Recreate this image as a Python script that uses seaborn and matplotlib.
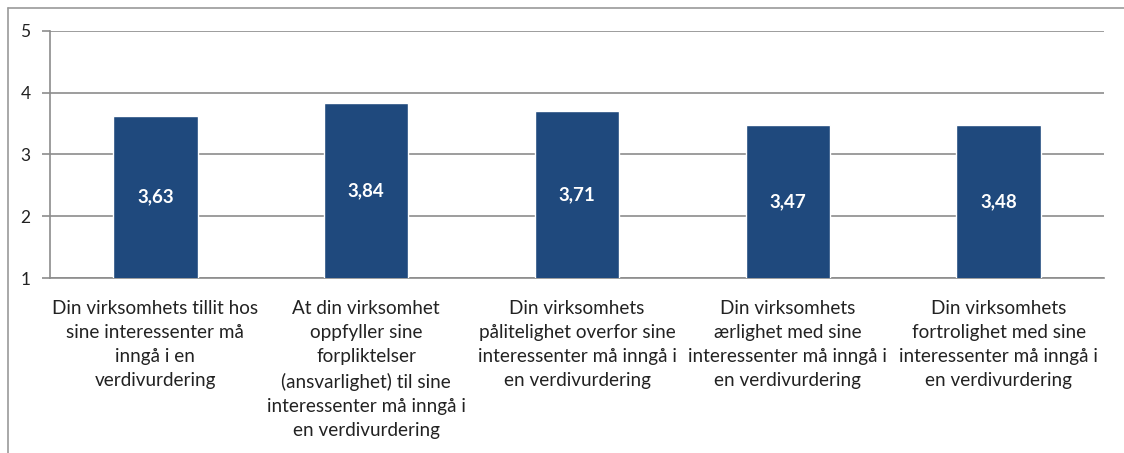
import matplotlib
matplotlib.use("Agg")
import matplotlib.pyplot as plt
import seaborn as sns
import pandas as pd
from matplotlib.lines import Line2D

# Data
categories = [
    "Din virksomhets tillit hos\nsine interessenter må\ninngå i en\nverdivurdering",
    "At din virksomhet\noppfyller sine\nforpliktelser\n(ansvarlighet) til sine\ninteressenter må inngå i\nen verdivurdering",
    "Din virksomhets\npålitelighet overfor sine\ninteressenter må inngå i\nen verdivurdering",
    "Din virksomhets\nærlighet med sine\ninteressenter må inngå i\nen verdivurdering",
    "Din virksomhets\nfortrolighet med sine\ninteressenter må inngå i\nen verdivurdering",
]
values = [3.63, 3.84, 3.71, 3.47, 3.48]
value_labels = ["3,63", "3,84", "3,71", "3,47", "3,48"]
y_ticks = [1, 2, 3, 4, 5]

sns.set_theme(style="white")
plt.rcParams['font.family'] = ['Lato', 'DejaVu Sans']

df = pd.DataFrame({"cat": categories, "val": values})

fig = plt.figure(figsize=(11.24, 4.53), dpi=100)
ax = fig.add_axes([0.0445, 0.3863, 0.9377, 0.5453])

sns.barplot(data=df, x="cat", y="val", color="#1F497D", saturation=1,
            width=0.4, ax=ax, zorder=3)

ax.set_ylim(1, 5)
ax.set_xlim(-0.5, len(categories) - 0.5)
ax.set_yticks(y_ticks)
ax.set_yticklabels([str(t) for t in y_ticks], fontsize=12.5, color="#222222")
ax.yaxis.grid(True, color="#8c8c8c", linewidth=1.2, zorder=0)
ax.set_axisbelow(True)
ax.set_xlabel("")
ax.set_ylabel("")

# category labels under the axis
ax.set_xticks(range(len(categories)))
ax.set_xticklabels(categories, fontsize=13.6, color="#222222", linespacing=1.5,
                   va="top")
ax.tick_params(axis="x", which="major", length=0, pad=16)
ax.set_xticks([i - 0.5 for i in range(len(categories) + 1)], minor=True)
ax.tick_params(axis="x", which="minor", length=6, color="#8c8c8c", width=1.2)
ax.tick_params(axis="y", length=6, color="#8c8c8c", width=1.2, left=True, pad=8)

for s in ["top", "right"]:
    ax.spines[s].set_visible(False)
for s in ["left", "bottom"]:
    ax.spines[s].set_color("#8c8c8c")
    ax.spines[s].set_linewidth(1.2)

# value labels in middle of bars
for i, (v, lab) in enumerate(zip(values, value_labels)):
    ax.text(i, (v + 1) / 2, lab, ha="center", va="center", color="white",
            fontsize=13.5, fontweight="bold", zorder=4)

# outer chart frame (left and top)
fig.add_artist(Line2D([8 / 1124, 8 / 1124], [0, 1 - 8 / 453],
                      transform=fig.transFigure, color="#9a9a9a", linewidth=1.2))
fig.add_artist(Line2D([8 / 1124, 1], [1 - 8 / 453, 1 - 8 / 453],
                      transform=fig.transFigure, color="#9a9a9a", linewidth=1.2))

fig.savefig("out.png", dpi=100)
